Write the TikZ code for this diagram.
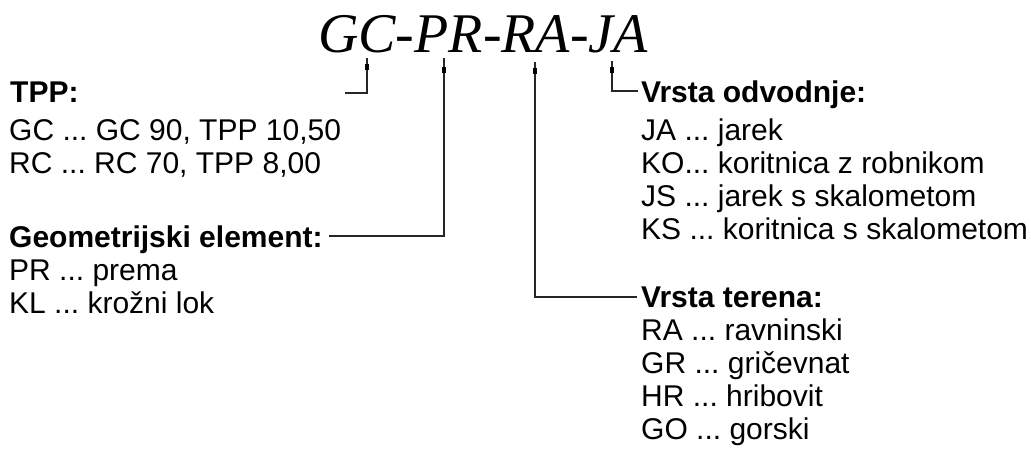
\documentclass[tikz,border=0pt]{standalone}
\usepackage{fontspec}
\setmainfont{Liberation Sans}
\newfontfamily\titlefont{Liberation Serif}
\frenchspacing
\begin{document}
\begin{tikzpicture}[x=1pt,y=-1pt,
  lbl/.style={anchor=base west,inner sep=0pt,font=\fontsize{30}{30}\selectfont},
  hdr/.style={lbl,font=\fontsize{30}{30}\selectfont\bfseries},
  conn/.style={line width=1.5pt,black!85},
  tick/.style={fill=black,draw=none,minimum width=4pt,minimum height=6pt,inner sep=0pt}]
\useasboundingbox (0,0) rectangle (1031,456);
\node[anchor=base,inner sep=0pt,font=\titlefont\itshape\fontsize{56}{56}\selectfont] (title) at (483,52) {GC-PR-RA-JA};
% left column
\node[hdr] (tpp) at (10,102) {TPP:};
\node[lbl] (gc) at (9,140) {GC ... GC 90, TPP 10,50};
\node[lbl] (rc) at (9,173) {RC ... RC 70, TPP 8,00};
\node[hdr] (geo) at (9,247) {Geometrijski element:};
\node[lbl] (pr) at (9,280) {PR ... prema};
\node[lbl] (kl) at (9,313) {KL ... krožni lok};
% right column
\node[hdr] (odv) at (641,102) {Vrsta odvodnje:};
\node[lbl] (ja) at (641,140) {JA ... jarek};
\node[lbl] (ko) at (641,173) {KO... koritnica z robnikom};
\node[lbl] (js) at (641,206) {JS ... jarek s skalometom};
\node[lbl] (ks) at (641,239) {KS ... koritnica s skalometom};
\node[hdr] (ter) at (641,307) {Vrsta terena:};
\node[lbl] (ra) at (641,340) {RA ... ravninski};
\node[lbl] (gr) at (641,373) {GR ... gričevnat};
\node[lbl] (hr) at (641,406) {HR ... hribovit};
\node[lbl] (go) at (641,439) {GO ... gorski};
% connector anchors
\coordinate (t1) at (367,58);
\coordinate (t2) at (444,58);
\coordinate (t3) at (535,62);
\coordinate (t4) at (612,61);
\coordinate (e1) at (345,93);
\coordinate (e2) at (329,236);
\coordinate (e3) at (637,297);
\coordinate (e4) at (638,91);
\draw[conn] (t1) |- (e1);
\draw[conn] (t2) |- (e2);
\draw[conn] (t3) |- (e3);
\draw[conn] (t4) |- (e4);
\node[tick] (d1) at (367,67) {};
\node[tick] (d2) at (444,70) {};
\node[tick] (d3) at (535,71) {};
\node[tick] (d4) at (612,70) {};
\end{tikzpicture}
\end{document}
